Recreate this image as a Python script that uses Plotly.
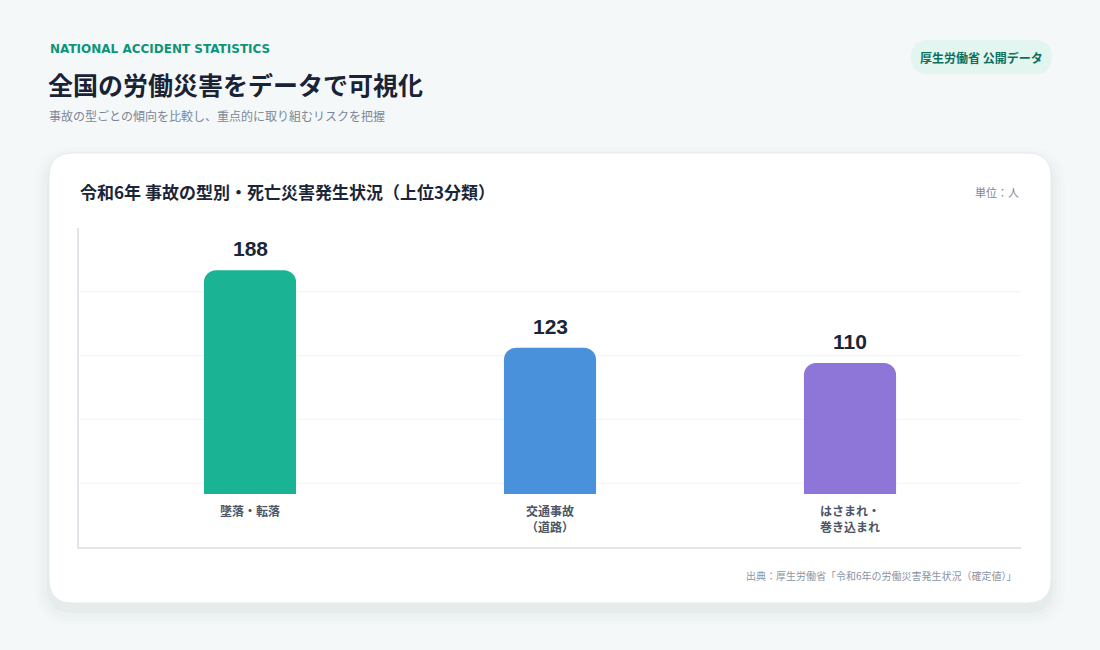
import plotly.graph_objects as go

W, H = 1100, 650

categories = ['墜落・転落', '交通事故<br>（道路）', 'はさまれ・<br>巻き込まれ']
deaths = [188, 123, 110]
bar_colors = ['#1ab394', '#4a91dc', '#8e76d9']

JP = 'Noto Sans CJK JP'


def px_x(v):
    return v / W


def px_y(v):
    return 1 - v / H


def rounded_rect(x0, y0, x1, y1, r):
    # 角丸の四角（ピクセル -> paper座標）
    pts = [
        f'M {px_x(x0 + r)} {px_y(y0)}',
        f'L {px_x(x1 - r)} {px_y(y0)}',
        f'Q {px_x(x1)} {px_y(y0)} {px_x(x1)} {px_y(y0 + r)}',
        f'L {px_x(x1)} {px_y(y1 - r)}',
        f'Q {px_x(x1)} {px_y(y1)} {px_x(x1 - r)} {px_y(y1)}',
        f'L {px_x(x0 + r)} {px_y(y1)}',
        f'Q {px_x(x0)} {px_y(y1)} {px_x(x0)} {px_y(y1 - r)}',
        f'L {px_x(x0)} {px_y(y0 + r)}',
        f'Q {px_x(x0)} {px_y(y0)} {px_x(x0 + r)} {px_y(y0)}',
        'Z',
    ]
    return ' '.join(pts)


def main():
    xs = list(range(len(categories)))

    fig = go.Figure()
    fig.add_trace(go.Bar(
        x=xs,
        y=deaths,
        width=0.307,
        marker=dict(color=bar_colors, cornerradius=12, line=dict(width=0)),
        hoverinfo='skip',
    ))

    shapes = []
    # カードの影（うすく）
    for i, op in enumerate([0.012, 0.015, 0.018, 0.022]):
        s = 14 - i * 4
        shapes.append(dict(type='path', xref='paper', yref='paper',
                           path=rounded_rect(49 - s, 153 - s + 8, 1051 + s, 603 + s + 8, 24 + s),
                           fillcolor=f'rgba(40,80,80,{op})', line=dict(width=0), layer='below'))
    shapes.append(dict(type='path', xref='paper', yref='paper',
                       path=rounded_rect(49, 153, 1051, 603, 24),
                       fillcolor='white', line=dict(color='#e6ebee', width=1), layer='below'))
    # バッジ
    shapes.append(dict(type='path', xref='paper', yref='paper',
                       path=rounded_rect(911, 40, 1052, 74, 17),
                       fillcolor='#e2f5ef', line=dict(width=0), layer='below'))
    # グリッド線
    for f in [0.2, 0.4, 0.6, 0.8]:
        shapes.append(dict(type='line', xref='x domain', yref='y domain', x0=0, x1=1, y0=f, y1=f,
                           line=dict(color='#f1f3f5', width=1), layer='below'))

    annotations = []
    for x, v in zip(xs, deaths):
        annotations.append(dict(x=x, y=v, xref='x', yref='y', text=f'<b>{v}</b>', showarrow=False,
                                yanchor='bottom', yshift=8,
                                font=dict(family='Liberation Sans', size=21, color='#1b2538')))
    for x, c in zip(xs, categories):
        annotations.append(dict(x=x, y=0, xref='x', yref='y', text=f'<b>{c}</b>', showarrow=False,
                                yanchor='top', yshift=-6,
                                font=dict(family=JP, size=12, color='#4b5668')))

    texts = [
        (48, 49, 'left', '<b>NATIONAL ACCIDENT STATISTICS</b>', 'DejaVu Sans', 12, '#0e9478'),
        (46, 84, 'left', '<b>全国の労働災害をデータで可視化</b>', JP, 25, '#1a2236'),
        (47, 116, 'left', '事故の型ごとの傾向を比較し、重点的に取り組むリスクを把握', JP, 12, '#7b8799'),
        (981, 57, 'center', '<b>厚生労働省 公開データ</b>', JP, 12, '#0d6f5b'),
        (78, 192, 'left', '<b>令和6年 事故の型別・死亡災害発生状況（上位3分類）</b>', JP, 17, '#1b2538'),
        (1021, 192, 'right', '単位：人', JP, 11, '#7b8799'),
        (1019, 575, 'right', '出典：厚生労働省「令和6年の労働災害発生状況（確定値）」', JP, 10, '#8a94a6'),
    ]
    for x, y, anchor, t, fam, size, col in texts:
        annotations.append(dict(x=px_x(x), y=px_y(y), xref='paper', yref='paper', text=t,
                                showarrow=False, xanchor=anchor, yanchor='middle',
                                font=dict(family=fam, size=size, color=col)))

    k = 1.19  # 1人あたりのピクセル
    y0_px = 494
    fig.update_layout(
        width=W,
        height=H,
        margin=dict(l=0, r=0, t=0, b=0),
        paper_bgcolor='#f5f8f8',
        plot_bgcolor='rgba(0,0,0,0)',
        showlegend=False,
        xaxis=dict(domain=[px_x(79), px_x(1021)], range=[-0.57, 2.57], showgrid=False,
                   zeroline=False, showticklabels=False, ticks='',
                   showline=True, linecolor='#e2e5e9', linewidth=1.5),
        yaxis=dict(domain=[px_y(547), px_y(228)],
                   range=[-(547 - y0_px) / k, (y0_px - 228) / k],
                   showgrid=False, zeroline=False, showticklabels=False, ticks='',
                   showline=True, linecolor='#e2e5e9', linewidth=1.5),
        shapes=shapes,
        annotations=annotations,
    )

    fig.write_html('out.html', config={'displayModeBar': False},
                   post_script="document.body.style.margin='0';")


if __name__ == '__main__':
    main()
